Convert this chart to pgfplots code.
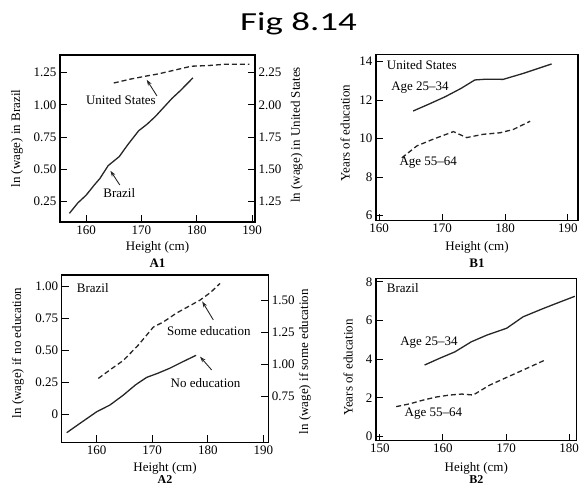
\documentclass[border=0pt]{standalone}
\usepackage{fontspec}
\setmainfont{Liberation Serif}
\newfontfamily\titlefont{Carlito}
\usepackage{graphicx}
\usepackage{pgfplots}
\pgfplotsset{compat=1.18}
\usetikzlibrary{arrows.meta}

\pgfplotsset{
  panel/.style={
    scale only axis, anchor=south west,
    tick align=inside, major tick length=7pt,
    xtick pos=left, ytick pos=left,
    axis line style={line width=1.1pt},
    every tick/.append style={line width=0.9pt, black},
    tick label style={font=\fontsize{13}{15}\selectfont},
    /pgf/number format/assume math mode=true,
    clip=false,
  },
  rpanel/.style={
    scale only axis, anchor=south west,
    tick align=inside, major tick length=7pt,
    axis x line=none, axis y line*=right,
    axis line style={line width=1.1pt},
    every tick/.append style={line width=0.9pt, black},
    tick label style={font=\fontsize{13}{15}\selectfont},
    /pgf/number format/assume math mode=true,
    clip=false,
  },
  sol/.style={line width=1.3pt, black!85, no markers},
  das/.style={line width=1.3pt, black!85, dash pattern=on 5pt off 3pt, no markers},
}
\tikzset{lab/.style={font=\fontsize{13}{15}\selectfont, inner sep=0pt},
  arr/.style={-{Stealth[length=6pt,width=4pt]}, line width=0.9pt, black!85}}

\begin{document}
\begin{tikzpicture}
\useasboundingbox (0pt,0pt) rectangle (580pt,485pt);

% ---------- A1 ----------
\begin{axis}[panel, at={(60pt,263pt)}, width=195pt, height=167pt,
  xmin=155.3, xmax=190.5, ymin=0.093, ymax=1.387,
  xtick={160,170,180,190}, ytick={0.25,0.5,0.75,1,1.25},
  yticklabels={0.25,0.50,0.75,1.00,1.25}]
\addplot[sol] coordinates {(157,0.16)(158.5,0.24)(160,0.30)(161.5,0.38)(162.5,0.43)(164,0.53)(166,0.60)(167.5,0.69)(169.5,0.80)(171,0.85)(172.5,0.91)(174,0.98)(175.5,1.05)(177,1.11)(179.3,1.21)};
\node[lab] at (axis cs:166.3,1.038) {United States};
\draw[arr] (axis cs:172.8,1.07) -- (axis cs:170.95,1.195);
\node[lab] at (axis cs:166.0,0.315) {Brazil};
\draw[arr] (axis cs:166.1,0.38) -- (axis cs:164.4,0.49);
\end{axis}
\begin{axis}[rpanel, at={(60pt,263pt)}, width=195pt, height=167pt,
  xmin=155.3, xmax=190.5, ymin=1.093, ymax=2.387,
  ytick={1.25,1.5,1.75,2,2.25},
  yticklabels={1.25,1.50,1.75,2.00,2.25}]
\addplot[das] coordinates {(165,2.17)(168,2.20)(171,2.225)(173,2.24)(176,2.27)(179,2.30)(182,2.305)(185,2.315)(189.5,2.315)};
\end{axis}

% ---------- B1 ----------
\begin{axis}[panel, at={(376pt,264.3pt)}, width=202pt, height=166pt,
  xmin=159.5, xmax=191.6, ymin=5.74, ymax=14.35,
  xtick={160,170,180,190}, ytick={6,8,10,12,14}]
\addplot[sol] coordinates {(165.4,11.43)(168,11.8)(170.5,12.17)(173,12.6)(175.2,13.04)(177,13.08)(179.7,13.07)(182.9,13.38)(187.4,13.87)};
\addplot[das] coordinates {(163.6,9.0)(166,9.62)(168.6,9.97)(170.5,10.2)(171.8,10.36)(173.9,10.05)(176.5,10.22)(179.2,10.3)(181.3,10.47)(184,10.9)};
\node[lab, anchor=west] at (axis cs:161.2,13.83) {United States};
\node[lab] at (axis cs:166.5,12.62) {Age 25--34};
\node[lab] at (axis cs:167.8,8.74) {Age 55--64};
\end{axis}

% ---------- A2 ----------
\begin{axis}[panel, at={(61.7pt,42.7pt)}, width=206.6pt, height=167.3pt,
  xmin=153.7, xmax=190.9, ymin=-0.218, ymax=1.086,
  xtick={160,170,180,190}, ytick={0,0.25,0.5,0.75,1},
  yticklabels={0,0.25,0.50,0.75,1.00}]
\addplot[sol] coordinates {(154.6,-0.143)(157,-0.07)(160,0.02)(162.4,0.073)(164.8,0.15)(167,0.23)(169,0.288)(171,0.32)(173.2,0.36)(175.5,0.41)(177.9,0.46)};
\node[lab, anchor=west] at (axis cs:156.4,0.982) {Brazil};
\node[lab] at (axis cs:180.2,0.65) {Some education};
\draw[arr] (axis cs:181.0,0.736) -- (axis cs:179.0,0.88);
\node[lab] at (axis cs:179.6,0.247) {No education};
\draw[arr] (axis cs:180.7,0.346) -- (axis cs:178.6,0.45);
\end{axis}
\begin{axis}[rpanel, at={(61.7pt,42.7pt)}, width=206.6pt, height=167.3pt,
  xmin=153.7, xmax=190.9, ymin=0.392, ymax=1.696,
  ytick={0.75,1,1.25,1.5},
  yticklabels={0.75,1.00,1.25,1.50}]
\addplot[das] coordinates {(160.3,0.89)(162.5,0.96)(164.8,1.03)(167.5,1.15)(170.2,1.29)(172,1.33)(174.4,1.40)(176.5,1.45)(178.6,1.50)(180.5,1.56)(182.2,1.63)};
\end{axis}

% ---------- B2 ----------
\begin{axis}[panel, at={(376pt,44.3pt)}, width=200.7pt, height=162.4pt,
  xmin=149.4, xmax=181.2, ymin=-0.21, ymax=8.18,
  xtick={150,160,170,180}, ytick={0,2,4,6,8}]
\addplot[sol] coordinates {(157.1,3.7)(159.5,4.05)(161.9,4.38)(164.5,4.9)(167,5.25)(170.1,5.6)(172.7,6.19)(175.9,6.62)(178.5,6.95)(180.9,7.25)};
\addplot[das] coordinates {(152.6,1.55)(154.8,1.7)(156.9,1.89)(159,2.05)(161.1,2.15)(163,2.2)(164.8,2.15)(167.4,2.66)(170.1,3.06)(172.7,3.44)(176.4,3.99)};
\node[lab, anchor=west] at (axis cs:151.1,7.66) {Brazil};
\node[lab] at (axis cs:157.8,4.85) {Age 25--34};
\node[lab] at (axis cs:158.5,1.17) {Age 55--64};
\end{axis}

% ---------- outer labels ----------
\node[font=\titlefont\fontsize{26}{30}\selectfont] at (298.5pt,461pt) {\scalebox{1.42}[1]{Fig 8.14}};

\node[lab] at (157.5pt,238pt) {Height (cm)};
\node[lab, font=\fontsize{13}{15}\selectfont\bfseries] at (157.5pt,222pt) {A1};
\node[lab] at (477pt,238pt) {Height (cm)};
\node[lab, font=\fontsize{13}{15}\selectfont\bfseries] at (477pt,222pt) {B1};
\node[lab] at (165pt,17pt) {Height (cm)};
\node[lab, font=\fontsize{12}{14}\selectfont\bfseries, anchor=base] at (165pt,1.5pt) {A2};
\node[lab] at (476.3pt,17pt) {Height (cm)};
\node[lab, font=\fontsize{12}{14}\selectfont\bfseries, anchor=base] at (476.3pt,1.5pt) {B2};

\node[lab, rotate=90] at (17pt,346.5pt) {ln (wage) in Brazil};
\node[lab, rotate=90] at (296.7pt,350pt) {ln (wage) in United States};
\node[lab, rotate=90] at (345pt,352pt) {Years of education};
\node[lab, rotate=90] at (18pt,132pt) {ln (wage) if no education};
\node[lab, rotate=90] at (305pt,123.3pt) {ln (wage) if some education};
\node[lab, rotate=90] at (348pt,117.5pt) {Years of education};
\end{tikzpicture}
\end{document}
